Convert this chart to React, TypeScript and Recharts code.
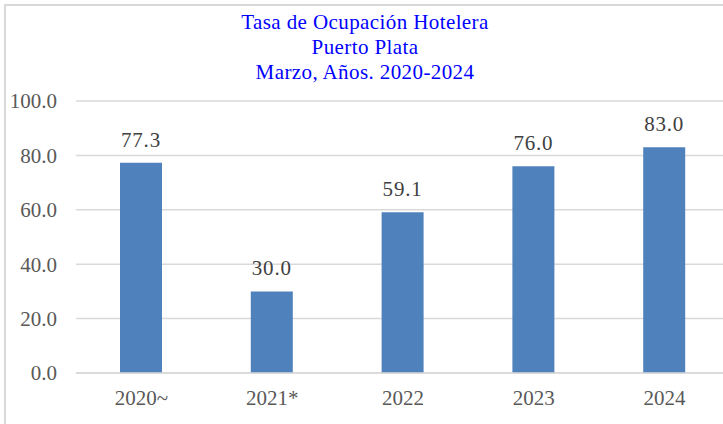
import React from "react";
import { BarChart, Bar, XAxis, YAxis, CartesianGrid, LabelList } from "recharts";

const categories = ["2020~", "2021*", "2022", "2023", "2024"];
const values = [77.3, 30.0, 59.1, 76.0, 83.0];
const yTicks = [0, 20, 40, 60, 80, 100];
const titleLines = ["Tasa de Ocupación Hotelera", "Puerto Plata", "Marzo, Años. 2020-2024"];

const data = categories.map((c, i) => ({ name: c, value: values[i] }));

const FONT = "Liberation Serif, Tinos, DejaVu Serif";

export default function App() {
  return (
    <div style={{ position: "fixed", left: 0, top: 0, width: 723, height: 424, overflow: "hidden", background: "#fff" }}>
      <div style={{ position: "absolute", left: 4, top: 4, width: 760, height: 460, border: "2px solid #d9d9d9" }} />
      <div style={{ position: "absolute", left: 0, top: 10, width: 730, textAlign: "center", color: "#0000ff", fontFamily: FONT, fontSize: 21, lineHeight: "25px", letterSpacing: 0.4 }}>
        {titleLines.map((t) => (
          <div key={t}>{t}</div>
        ))}
      </div>
      <div style={{ position: "absolute", left: 0, top: 0 }}>
        <BarChart width={740} height={424} data={data} margin={{ top: 101, right: 10, left: 0, bottom: 0 }}>
          <CartesianGrid vertical={false} stroke="#d9d9d9" strokeWidth={1.5} />
          <XAxis
            dataKey="name"
            height={51}
            tickSize={0}
            tickMargin={17}
            axisLine={{ stroke: "#d9d9d9", strokeWidth: 1.5 }}
            tickLine={false}
            tick={{ fill: "#595959", fontSize: 21, fontFamily: FONT }}
          />
          <YAxis
            width={76}
            domain={[0, 100]}
            ticks={yTicks}
            tickFormatter={(v: number) => v.toFixed(1)}
            tickSize={0}
            tickMargin={19}
            axisLine={false}
            tickLine={false}
            tick={{ fill: "#595959", fontSize: 21, fontFamily: FONT }}
          />
          <Bar dataKey="value" fill="#4f81bd" barSize={42} isAnimationActive={false}>
            <LabelList
              dataKey="value"
              position="top"
              offset={16}
              formatter={(v: number) => v.toFixed(1)}
              style={{ fill: "#404040", fontSize: 21, fontFamily: FONT, letterSpacing: 0.8 }}
            />
          </Bar>
        </BarChart>
      </div>
    </div>
  );
}
